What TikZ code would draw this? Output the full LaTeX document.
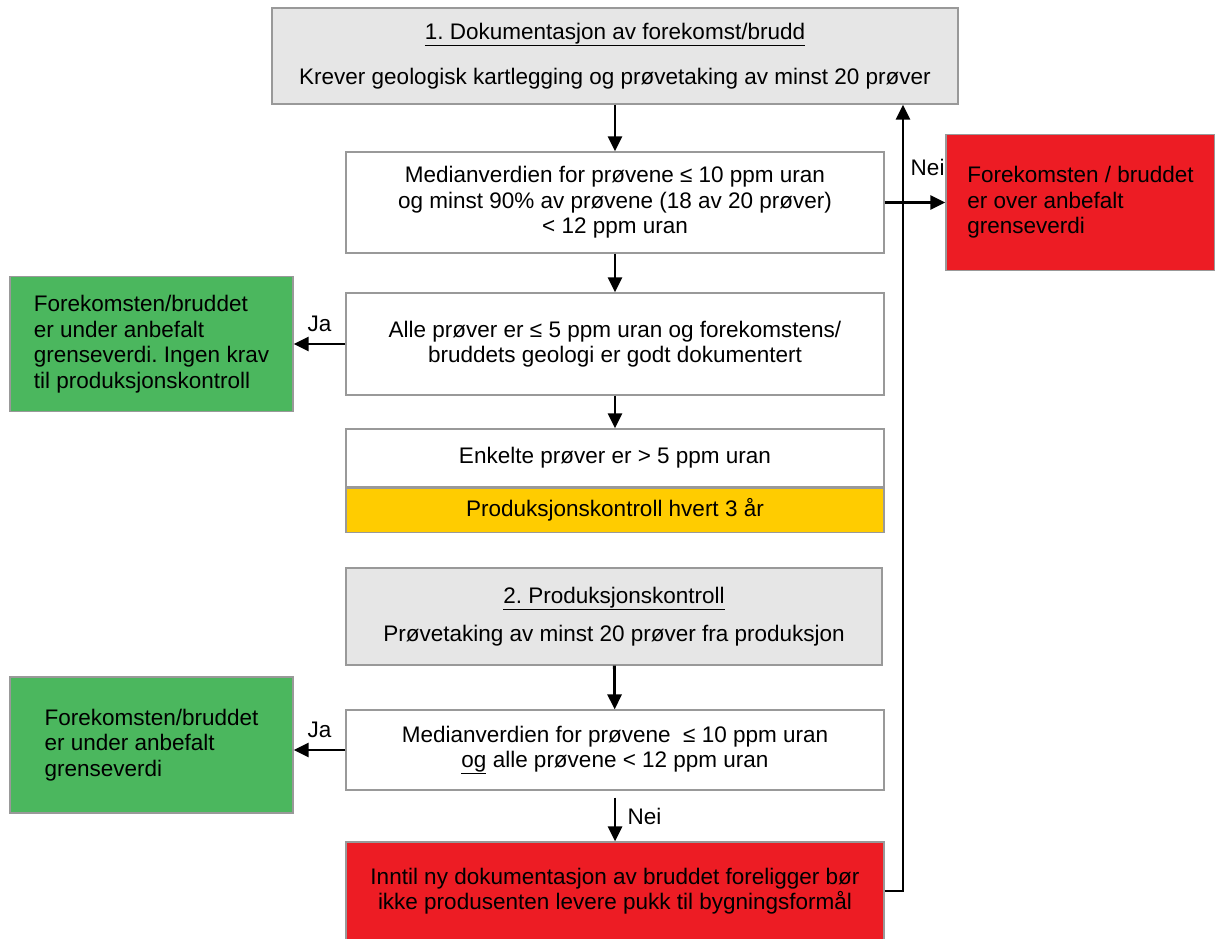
\documentclass[tikz,border=0pt]{standalone}
\usepackage{fontspec}
\setmainfont{Liberation Sans}
\usetikzlibrary{arrows.meta, positioning}
\definecolor{headgray}{HTML}{E6E6E6}
\definecolor{stopred}{HTML}{ED1C24}
\definecolor{okgreen}{HTML}{4BB75E}
\definecolor{warnyellow}{HTML}{FFCC00}
\frenchspacing

\begin{document}
\begin{tikzpicture}[
    x=1pt, y=-1pt,
    every node/.style={font=\fontsize{22.5}{25.5}\selectfont},
    flowbox/.style={rectangle, draw=gray!80, line width=1.2pt, fill=white, minimum width=538pt, align=center, inner sep=0pt},
    headbox/.style={flowbox, fill=headgray},
    resultbox/.style={rectangle, draw=gray!80, line width=1.2pt, align=left, inner sep=0pt},
    arrow/.style={-{Triangle[length=15pt, width=14pt]}, line width=2.8pt}
]
\useasboundingbox (0,0) rectangle (1215,938);

% fase 1
\node (dok) [headbox, minimum width=686pt, minimum height=96pt] at (615,56)
    {\underline{1. Dokumentasjon av forekomst/brudd}\\[20pt]Krever geologisk kartlegging og prøvetaking av minst 20 prøver};
\node (krav) [flowbox, minimum height=101pt] at (615,202.5)
    {Medianverdien for prøvene ≤ 10 ppm uran\\og minst 90\% av prøvene (18 av 20 prøver)\\< 12 ppm uran};
\node (over) [resultbox, fill=stopred, minimum width=269pt, minimum height=136pt] at (1080.5,202.5)
    {Forekomsten / bruddet\\er over anbefalt\\grenseverdi};
\node (alle) [flowbox, minimum height=102pt] at (615,344)
    {Alle prøver er ≤ 5 ppm uran og forekomstens/\\bruddets geologi er godt dokumentert};
\node (under) [resultbox, fill=okgreen, minimum width=283pt, minimum height=135pt] at (151.5,344)
    {Forekomsten/bruddet\\er under anbefalt\\grenseverdi. Ingen krav\\til produksjonskontroll};
\node (enkelt) [flowbox, minimum height=58pt] at (615,458) {Enkelte prøver er > 5 ppm uran};
\node (hvert) [flowbox, fill=warnyellow, minimum height=44pt, below=0pt of enkelt] {Produksjonskontroll hvert 3 år};

% fase 2
\node (prod) [headbox, minimum width=536pt, minimum height=97pt] at (614,616.5)
    {\underline{2. Produksjonskontroll}\\[13pt]Prøvetaking av minst 20 prøver fra produksjon};
\node (median) [flowbox, minimum height=80pt] at (615,750)
    {Medianverdien for prøvene \ ≤ 10 ppm uran\\\underline{og} alle prøvene < 12 ppm uran};
\node (godkjent) [resultbox, fill=okgreen, minimum width=283pt, minimum height=136pt] at (151.5,745)
    {Forekomsten/bruddet\\er under anbefalt\\grenseverdi};
\node (stopp) [flowbox, fill=stopred, minimum height=98pt] at (615,891)
    {Inntil ny dokumentasjon av bruddet foreligger bør\\ikke produsenten levere pukk til bygningsformål};
\coordinate (retur) at (903,0);

\draw [arrow] (dok) -- (krav);
\draw [arrow] (krav) -- (alle);
\draw [arrow] (alle) -- (enkelt);
\draw [arrow] (krav.east) -- (over.west);
\draw [arrow] (alle.west) -- (under.east) node [midway, above=8pt] {Ja};
\draw [arrow] (prod) -- (median);
\draw [arrow] (median.west) -- (median.west -| godkjent.east) node [midway, above=8pt] {Ja};
\draw [arrow, shorten <=7pt] (median) -- (stopp) node [midway, right=8pt] {Nei};
\draw [arrow] (stopp.east) -| (retur |- dok.south) node [pos=0.96, right=3pt] {Nei};
\end{tikzpicture}
\end{document}
